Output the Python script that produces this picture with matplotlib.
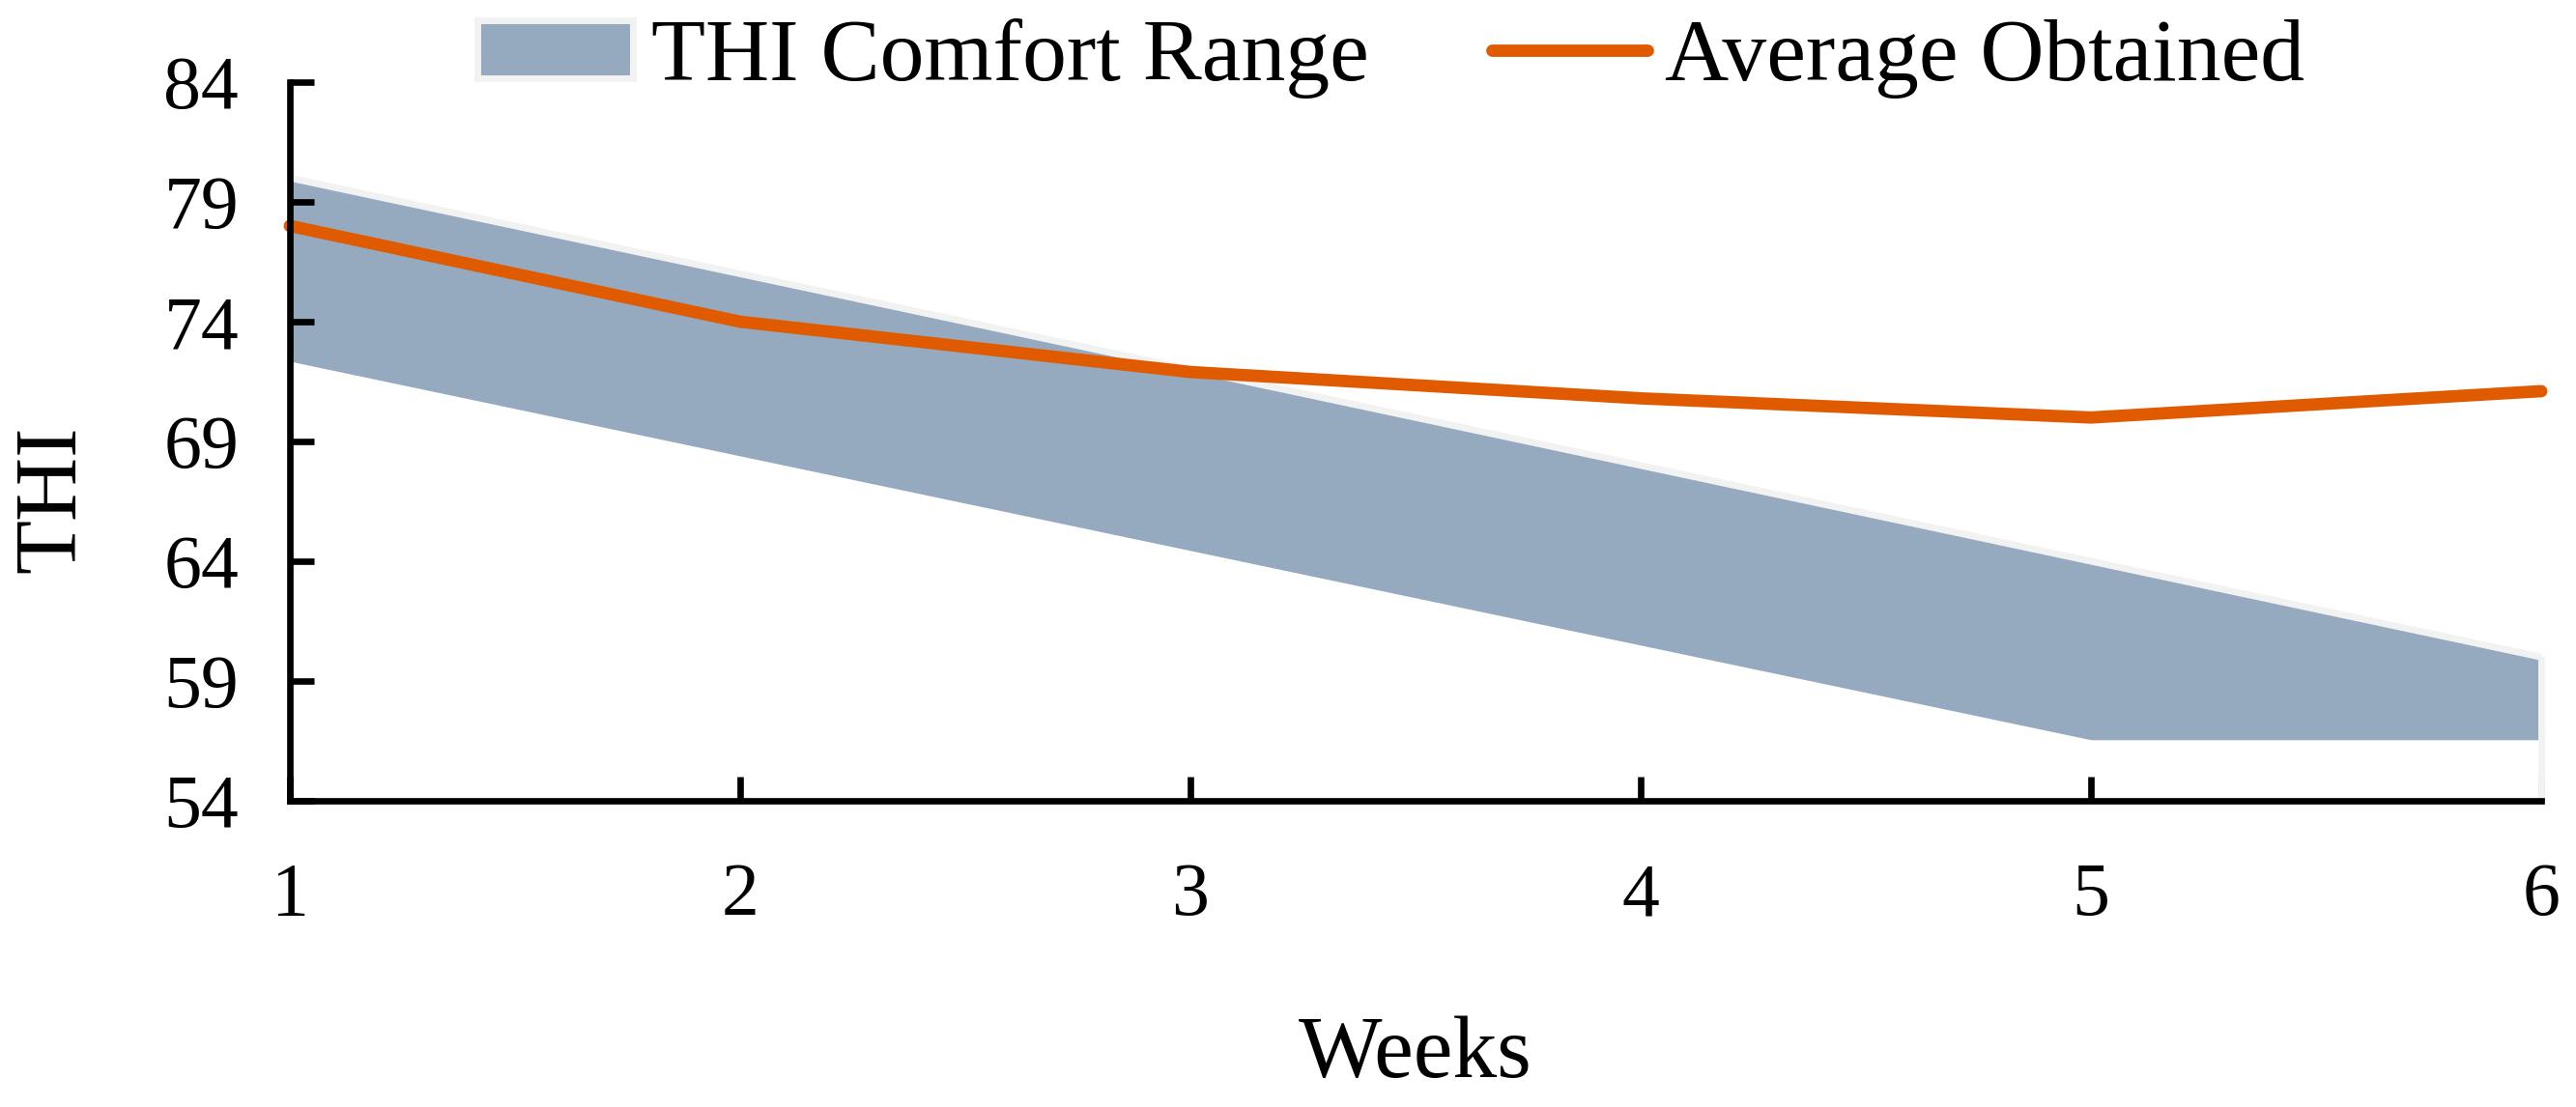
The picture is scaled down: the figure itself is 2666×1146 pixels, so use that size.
import numpy as np
import matplotlib.pyplot as plt
from matplotlib.patches import Patch
from matplotlib.lines import Line2D

plt.rcParams['font.family'] = ['Liberation Serif', 'DejaVu Serif']

weeks = [1, 2, 3, 4, 5, 6]
comfort_low = [72.35, 68.4, 64.45, 60.5, 56.55, 56.55]
comfort_high = [80, 76, 72, 68, 64, 60]
thi_avg = [78.0, 74.0, 71.9, 70.8, 70.0, 71.1]
yticks = [54, 59, 64, 69, 74, 79, 84]

band_col = '#95AABF'
edge_col = '#F2F2F2'
line_col = '#E05A00'

fig = plt.figure(figsize=(13.33, 5.73), dpi=200)
ax = fig.add_axes([0.1125, 0.2766, 0.874, 0.6492])

ax.fill_between(weeks, comfort_low, comfort_high, color=band_col, lw=0, zorder=1)
ax.plot(weeks, comfort_high, color=edge_col, lw=2.5, zorder=2, solid_capstyle='butt')
ax.vlines(weeks[-1], yticks[0], comfort_high[-1], color=edge_col, lw=2.5, zorder=2, clip_on=False)
ax.plot(weeks, thi_avg, color=line_col, lw=4.6, zorder=3, solid_capstyle='round', clip_on=False)

ax.set_xlim(1, 6)
ax.set_ylim(54, 84)
ax.set_xticks(weeks)
ax.set_yticks(yticks)

for s in ['top', 'right']:
    ax.spines[s].set_visible(False)
for s in ['left', 'bottom']:
    ax.spines[s].set_linewidth(2.4)
    ax.spines[s].set_zorder(4)

ax.tick_params(axis='both', direction='in', length=9, width=2.4, labelsize=28)
ax.tick_params(axis='y', pad=19)
ax.tick_params(axis='x', pad=23)

ax.set_xlabel('Weeks', fontsize=33, va='center')
ax.xaxis.set_label_coords(0.5, -0.355)
ax.set_ylabel('THI', fontsize=33, va='center')
ax.yaxis.set_label_coords(-0.105, 0.42)

handles = [Patch(facecolor=band_col, edgecolor=edge_col, linewidth=2.5),
           Line2D([0], [0], color=line_col, lw=4.6, solid_capstyle='round')]
fig.legend(handles, ['THI Comfort Range', 'Average Obtained'], loc='center',
           bbox_to_anchor=(0.540, 0.947), ncol=2, frameon=False, fontsize=33,
           handlelength=1.76, handleheight=0.62, handletextpad=0.2,
           columnspacing=1.39, borderpad=0, borderaxespad=0)

plt.savefig('out.png', dpi=200)
